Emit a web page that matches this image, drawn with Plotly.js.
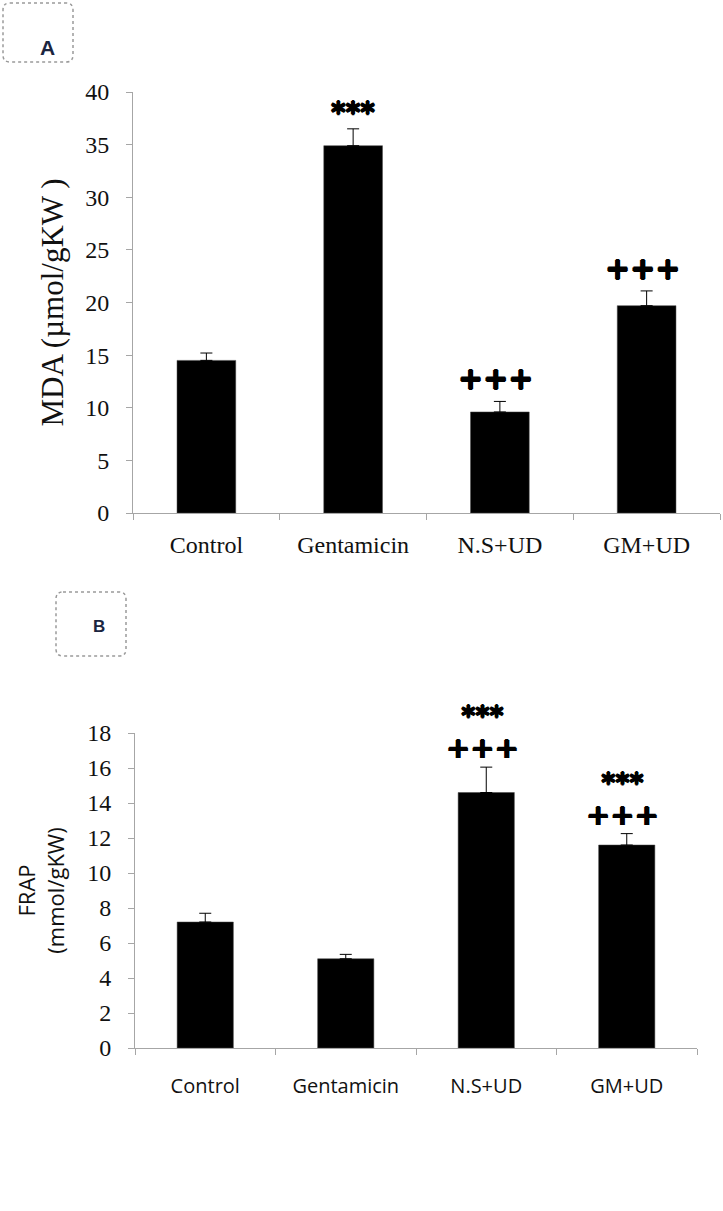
<!DOCTYPE html>
<html>
<head>
<meta charset="utf-8">
<script src="https://cdn.plot.ly/plotly-3.0.1.min.js"></script>
<style>html,body{margin:0;padding:0;background:#fff;}#chart{width:723px;height:1211px;}</style>
</head>
<body>
<div id="chart"></div>
<script>
// ---- data ----
const categories = ['Control', 'Gentamicin', 'N.S+UD', 'GM+UD'];
const mdaMean = [14.5, 34.9, 9.6, 19.7];
const mdaErr = [0.7, 1.6, 1.0, 1.4];
const frapMean = [7.2, 5.1, 14.6, 11.6];
const frapErr = [0.5, 0.25, 1.45, 0.65];
const mdaMarks = ['', '***', '+++', '+++'];
const frapStars = ['', '', '***', '***'];
const frapPlus = ['', '', '+++', '+++'];
const mdaTicks = [0, 5, 10, 15, 20, 25, 30, 35, 40];
const frapTicks = [0, 2, 4, 6, 8, 10, 12, 14, 16, 18];

const W = 723, H = 1211;
const px = x => x / W;
const py = y => 1 - y / H;

function roundBox(x0, y0, x1, y1, r) {
  return 'M' + px(x0 + r) + ',' + py(y0) +
    ' L' + px(x1 - r) + ',' + py(y0) +
    ' Q' + px(x1) + ',' + py(y0) + ' ' + px(x1) + ',' + py(y0 + r) +
    ' L' + px(x1) + ',' + py(y1 - r) +
    ' Q' + px(x1) + ',' + py(y1) + ' ' + px(x1 - r) + ',' + py(y1) +
    ' L' + px(x0 + r) + ',' + py(y1) +
    ' Q' + px(x0) + ',' + py(y1) + ' ' + px(x0) + ',' + py(y1 - r) +
    ' L' + px(x0) + ',' + py(y0 + r) +
    ' Q' + px(x0) + ',' + py(y0) + ' ' + px(x0 + r) + ',' + py(y0) + ' Z';
}

const serif = 'Liberation Serif, Times New Roman, serif';
const sans = 'Open Sans, Noto Sans, sans-serif';
const markFont = 'DejaVu Sans, sans-serif';
const heavy = '0.8px 0 0 #000, -0.8px 0 0 #000, 0 0.8px 0 #000, 0 -0.8px 0 #000';
const axisGrey = '#a6a6a6';

const traces = [
  {
    type: 'bar', x: categories, y: mdaMean, xaxis: 'x', yaxis: 'y',
    marker: {color: '#000', line: {color: '#444', width: 0.5}},
    error_y: {type: 'data', symmetric: false, array: mdaErr, arrayminus: mdaErr.map(() => 0),
      color: '#000', thickness: 1, width: 6},
    hoverinfo: 'x+y', showlegend: false
  },
  {
    type: 'bar', x: categories, y: frapMean, xaxis: 'x2', yaxis: 'y2',
    marker: {color: '#000', line: {color: '#444', width: 0.5}},
    error_y: {type: 'data', symmetric: false, array: frapErr, arrayminus: frapErr.map(() => 0),
      color: '#000', thickness: 1, width: 6},
    hoverinfo: 'x+y', showlegend: false
  }
];

const annotations = [];
categories.forEach((c, i) => {
  if (mdaMarks[i]) {
    const isPlus = mdaMarks[i] === '+++';
    annotations.push({xref: 'x', yref: 'y', x: c, y: mdaMean[i] + mdaErr[i],
      text: '<b>' + mdaMarks[i] + '</b>', showarrow: false, yanchor: 'bottom',
      yshift: isPlus ? 3 : -2, xshift: isPlus ? -4 : 0,
      font: {family: markFont, size: isPlus ? 30 : 28, color: '#000', shadow: heavy}});
  }
  if (frapPlus[i] || frapStars[i]) {
    annotations.push({xref: 'x2', yref: 'y2', x: c, y: frapMean[i] + frapErr[i],
      text: '<span style="font-size:27px">' + frapStars[i] + '</span><br><span style="font-size:29px">' + frapPlus[i] + '</span>',
      showarrow: false, yanchor: 'bottom', yshift: 0, xshift: -4,
      font: {family: markFont, size: 25, color: '#000', weight: 'bold', shadow: heavy}});
  }
});
annotations.push({xref: 'paper', yref: 'paper', x: px(38), y: py(34), text: '<b>A</b>',
  showarrow: false, font: {family: 'Liberation Sans, Arial, sans-serif', size: 21, color: '#1b2540'}});
annotations.push({xref: 'paper', yref: 'paper', x: px(91), y: py(626), text: '<b>B</b>',
  showarrow: false, font: {family: 'Liberation Sans, Arial, sans-serif', size: 17, color: '#1b2540'}});

const shapes = [
  {type: 'path', xref: 'paper', yref: 'paper', path: roundBox(3, 3, 73, 62, 7),
    line: {color: '#9a9a9a', width: 1.5, dash: 'dot'}},
  {type: 'path', xref: 'paper', yref: 'paper', path: roundBox(56, 592, 126, 656, 7),
    line: {color: '#9a9a9a', width: 1.5, dash: 'dot'}}
];

const xCommon = {
  type: 'category', range: [-0.5, 3.5], showline: true, linecolor: axisGrey, linewidth: 1,
  ticks: 'outside', tickson: 'boundaries', ticklen: 6, tickcolor: axisGrey,
  showgrid: false, zeroline: false, fixedrange: true
};
const yCommon = {
  showline: true, linecolor: axisGrey, linewidth: 1, ticks: 'outside', ticklen: 6,
  tickcolor: axisGrey, showgrid: false, zeroline: false, fixedrange: true, ticklabelstandoff: 12
};

const layout = {
  width: W, height: H, margin: {l: 0, r: 0, t: 0, b: 0},
  paper_bgcolor: '#fff', plot_bgcolor: '#fff', bargap: 0.6,
  xaxis: Object.assign({}, xCommon, {domain: [px(133), px(720)], anchor: 'y', ticklabelstandoff: 10,
    tickfont: {family: serif, size: 24, color: '#111'}}),
  yaxis: Object.assign({}, yCommon, {domain: [py(513), py(92)], anchor: 'x', range: [0, 40],
    tickvals: mdaTicks, tickfont: {family: serif, size: 24, color: '#111'},
    title: {text: 'MDA (µmol/gKW )', font: {family: serif, size: 31, color: '#111'}, standoff: 12}}),
  xaxis2: Object.assign({}, xCommon, {domain: [px(135), px(697)], anchor: 'y2', ticklabelstandoff: 20,
    tickfont: {family: sans, size: 20, color: '#111'}}),
  yaxis2: Object.assign({}, yCommon, {domain: [py(1048), py(733)], anchor: 'x2', range: [0, 18],
    tickvals: frapTicks, tickfont: {family: serif, size: 24, color: '#111'},
    title: {text: 'FRAP<br>(mmol/gKW)', font: {family: sans, size: 22, color: '#111'}, standoff: 16}}),
  annotations: annotations,
  shapes: shapes
};

Plotly.newPlot('chart', traces, layout, {displayModeBar: false, staticPlot: true});
</script>
</body>
</html>
